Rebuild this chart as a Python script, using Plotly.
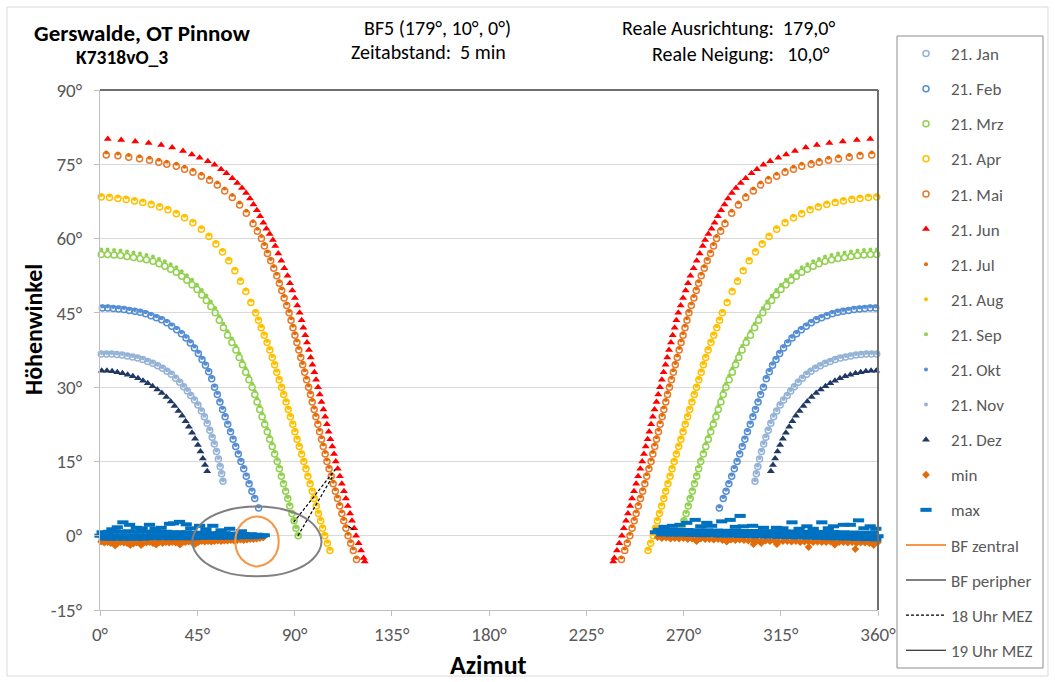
import plotly.graph_objects as go

# ---------------- data ----------------
x_tickvals = [0, 45, 90, 135, 180, 225, 270, 315, 360]
x_ticktext = ["0°", "45°", "90°", "135°", "180°", "225°", "270°", "315°", "360°"]
y_tickvals = [-15, 0, 15, 30, 45, 60, 75, 90]
y_ticktext = ["-15°", "0°", "15°", "30°", "45°", "60°", "75°", "90°"]

# 21. Jun
jun_az_l = [3.6, 9.8, 16.3, 22.5, 28.3, 33.4, 38.4, 42.5, 46.1, 49.9, 53.0, 56.0, 58.5, 61.2, 63.5, 65.7, 67.6, 69.4, 71.0, 72.6, 74.1, 75.6, 77.0, 78.5, 80.0,
            81.1, 82.5, 83.9, 85.3, 86.8, 87.9, 89.0, 90.2, 91.3, 92.4, 93.3, 94.1, 95.0, 95.8, 96.7, 97.5, 98.3, 99.2, 100.0, 100.9,
            101.7, 102.5, 103.4, 104.2, 105.0, 105.8, 106.6, 107.5, 108.3, 109.1, 110.0, 111.0, 111.9, 112.9, 113.8, 114.7, 115.7, 116.6, 117.6, 118.5,
            119.7, 120.8, 122.0, 122.5]
jun_az_r = [356.4, 350.2, 343.7, 337.5, 331.7, 326.6, 321.6, 317.5, 313.9, 310.1, 307.0, 304.0, 301.5, 298.8, 296.5, 294.3, 292.4, 290.6, 289.0, 287.4, 285.9, 284.4, 283.0, 281.5, 280.0,
            278.9, 277.5, 276.1, 274.7, 273.2, 272.1, 271.0, 269.8, 268.7, 267.6, 266.7, 265.9, 265.0, 264.2, 263.3, 262.5, 261.7, 260.8, 260.0, 259.1,
            258.3, 257.5, 256.6, 255.8, 255.0, 254.2, 253.4, 252.5, 251.7, 250.9, 250.0, 249.0, 248.1, 247.1, 246.2, 245.3, 244.3, 243.4, 242.4, 241.5,
            240.3, 239.2, 238.0, 237.5]
jun_el = [80.1, 79.9, 79.6, 79.3, 78.9, 78.4, 77.7, 77.0, 76.3, 75.6, 74.9, 74.0, 73.2, 72.2, 71.2, 70.2, 69.2, 68.1, 66.9, 65.7, 64.5, 63.2, 62.0, 60.9, 59.7,
          58.5, 57.0, 55.5, 54.0, 52.5, 51.0, 49.5, 48.0, 46.5, 45.0, 43.5, 42.0, 40.5, 39.0, 37.5, 36.0, 34.5, 33.0, 31.5, 30.0,
          28.5, 27.0, 25.5, 24.0, 22.5, 21.0, 19.5, 18.0, 16.5, 15.0, 13.5, 12.0, 10.5, 9.0, 7.5, 6.0, 4.5, 3.0, 1.5, 0.0,
          -1.5, -3.0, -4.5, -5.2]

# 21. Mai / 21. Jul
mai_az_l = [2.9, 8.3, 13.3, 18.3, 22.9, 27.2, 30.9, 35.3, 39.1, 43.0, 46.9, 50.7, 54.3, 57.7, 61.2, 64.6, 67.7, 70.8, 72.8, 74.7,
            76.1, 77.5, 79.0, 80.4, 81.8, 83.0, 84.1, 85.2, 86.4, 87.5, 88.4, 89.3, 90.2, 91.1, 92.0, 92.9, 93.8, 94.7, 95.6, 96.5,
            97.4, 98.2, 99.1, 99.9, 100.8, 101.6, 102.5, 103.3, 104.2, 105.0, 106.0, 107.0, 107.9, 108.9, 109.9, 110.9, 111.9, 112.8, 113.8, 114.8,
            116.0, 117.2, 118.7]
mai_az_r = [357.1, 351.7, 346.7, 341.7, 337.1, 332.8, 329.1, 324.7, 320.9, 317.0, 313.1, 309.3, 305.7, 302.3, 298.8, 295.4, 292.3, 289.2, 287.2, 285.3,
            283.9, 282.5, 281.0, 279.6, 278.2, 277.0, 275.9, 274.8, 273.6, 272.5, 271.6, 270.7, 269.8, 268.9, 268.0, 267.1, 266.2, 265.3, 264.4, 263.5,
            262.6, 261.8, 260.9, 260.1, 259.2, 258.4, 257.5, 256.7, 255.8, 255.0, 254.0, 253.0, 252.1, 251.1, 250.1, 249.1, 248.1, 247.2, 246.2, 245.2,
            244.0, 242.8, 241.3]
mai_el = [76.9, 76.7, 76.4, 76.1, 75.8, 75.4, 75.0, 74.6, 74.0, 73.4, 72.6, 71.8, 70.8, 69.6, 68.3, 66.8, 65.1, 63.0, 61.5, 60.0,
          58.5, 57.0, 55.5, 54.0, 52.5, 51.0, 49.5, 48.0, 46.5, 45.0, 43.5, 42.0, 40.5, 39.0, 37.5, 36.0, 34.5, 33.0, 31.5, 30.0,
          28.5, 27.0, 25.5, 24.0, 22.5, 21.0, 19.5, 18.0, 16.5, 15.0, 13.5, 12.0, 10.5, 9.0, 7.5, 6.0, 4.5, 3.0, 1.5, 0.0,
          -1.5, -3.0, -4.8]
jul_el = [77.4, 77.2, 76.9, 76.6, 76.3, 75.9, 75.5, 75.1, 74.5, 73.9, 73.1, 72.3, 71.3, 70.1, 68.8, 67.3, 65.6, 63.5, 62.0, 60.5,
          58.9, 57.4, 55.9, 54.4, 52.9, 51.4, 49.9, 48.4, 46.9, 45.4, 43.9, 42.4, 40.9, 39.4, 37.9, 36.4, 34.9, 33.4, 31.9, 30.4,
          28.9, 27.4, 25.9, 24.4, 22.9, 21.4, 19.9, 18.4, 16.9, 15.4, 13.9, 12.4, 10.9, 9.4, 7.9, 6.4, 4.9, 3.4, 1.9, 0.4,
          -1.1, -2.6, -4.4]

# 21. Apr / 21. Aug
apr_az_l = [0.6, 4.4, 8.3, 12.1, 16.0, 19.8, 23.7, 27.6, 31.4, 35.3, 39.1, 43.0, 46.9, 50.4, 53.6, 56.7, 59.6, 62.4, 65.0, 67.5, 69.8, 72.0,
            73.3, 74.6, 76.0, 77.3, 78.6, 79.7, 80.8, 81.8, 82.9, 84.0, 85.0, 86.1, 87.1, 88.1, 89.2, 90.2, 91.2, 92.2, 93.3, 94.3,
            95.3, 96.2, 97.2, 98.2, 99.1, 100.1, 101.1, 102.1, 103.0, 104.0, 105.2, 106.4]
apr_az_r = [359.4, 355.6, 351.7, 347.9, 344.0, 340.2, 336.3, 332.4, 328.6, 324.7, 320.9, 317.0, 313.1, 309.6, 306.4, 303.3, 300.4, 297.6, 295.0, 292.5, 290.2, 288.0,
            286.7, 285.4, 284.0, 282.7, 281.4, 280.3, 279.2, 278.2, 277.1, 276.0, 275.0, 273.9, 272.9, 271.9, 270.8, 269.8, 268.8, 267.8, 266.7, 265.7,
            264.7, 263.8, 262.8, 261.8, 260.9, 259.9, 258.9, 257.9, 257.0, 256.0, 254.8, 253.6]
apr_el = [68.4, 68.3, 68.1, 67.9, 67.6, 67.3, 66.9, 66.4, 65.8, 65.0, 64.2, 63.2, 61.9, 60.4, 58.9, 57.3, 55.5, 53.5, 51.4, 49.3, 47.1, 45.0,
          43.5, 42.0, 40.5, 39.0, 37.5, 36.0, 34.5, 33.0, 31.5, 30.0, 28.5, 27.0, 25.5, 24.0, 22.5, 21.0, 19.5, 18.0, 16.5, 15.0,
          13.5, 12.0, 10.5, 9.0, 7.5, 6.0, 4.5, 3.0, 1.5, 0.0, -1.5, -3.0]
aug_el = [68.8, 68.7, 68.5, 68.3, 68.0, 67.7, 67.3, 66.8, 66.2, 65.4, 64.6, 63.6, 62.3, 60.8, 59.3, 57.7, 55.9, 53.9, 51.8, 49.7, 47.5, 45.4,
          43.8, 42.3, 40.8, 39.3, 37.8, 36.3, 34.8, 33.3, 31.8, 30.3, 28.8, 27.3, 25.8, 24.3, 22.8, 21.3, 19.8, 18.3, 16.8, 15.3,
          13.8, 12.3, 10.8, 9.3, 7.8, 6.3, 4.8, 3.3, 1.8, 0.3, -1.2, -2.7]

# 21. Mrz / 21. Sep
mrz_az_l = [0.6, 3.5, 6.5, 9.5, 12.5, 15.5, 18.5, 21.5, 24.5, 27.3, 30.0, 32.7, 35.3, 37.8, 40.2, 42.6, 44.9, 47.1, 49.2, 51.3, 53.3,
            55.2, 57.1, 59.0, 61.0, 62.9, 64.4, 65.9, 67.4, 68.9, 70.4, 71.6, 72.7, 73.9, 75.0, 76.2, 77.4, 78.5, 79.7, 80.8, 82.0,
            83.0, 83.9, 84.9, 85.9, 86.9, 87.8, 88.8, 89.8, 90.7, 91.7]
mrz_az_r = [359.4, 356.5, 353.5, 350.5, 347.5, 344.5, 341.5, 338.5, 335.5, 332.7, 330.0, 327.3, 324.7, 322.2, 319.8, 317.4, 315.1, 312.9, 310.8, 308.7, 306.7,
            304.8, 302.9, 301.0, 299.0, 297.1, 295.6, 294.1, 292.6, 291.1, 289.6, 288.4, 287.3, 286.1, 285.0, 283.8, 282.6, 281.5, 280.3, 279.2, 278.0,
            277.0, 276.1, 275.1, 274.1, 273.1, 272.2, 271.2, 270.2, 269.3, 268.3]
mrz_el = [56.8, 56.8, 56.7, 56.6, 56.4, 56.2, 56.0, 55.7, 55.4, 54.9, 54.4, 53.8, 53.2, 52.4, 51.6, 50.7, 49.7, 48.6, 47.5, 46.3, 45.0,
          43.5, 42.0, 40.5, 39.0, 37.5, 36.0, 34.5, 33.0, 31.5, 30.0, 28.5, 27.0, 25.5, 24.0, 22.5, 21.0, 19.5, 18.0, 16.5, 15.0,
          13.5, 12.0, 10.5, 9.0, 7.5, 6.0, 4.5, 3.0, 1.5, 0.0]
sep_el = [57.8, 57.8, 57.7, 57.6, 57.4, 57.2, 57.0, 56.7, 56.4, 55.9, 55.4, 54.8, 54.2, 53.4, 52.6, 51.7, 50.7, 49.6, 48.5, 47.3, 46.0,
          44.3, 42.8, 41.3, 39.8, 38.3, 36.8, 35.3, 33.8, 32.3, 30.7, 29.2, 27.7, 26.2, 24.7, 23.1, 21.6, 20.1, 18.6, 17.0, 15.5,
          14.0, 12.4, 10.9, 9.4, 7.8, 6.3, 4.8, 3.2, 1.7, 0.2]

# 21. Feb / 21. Okt
feb_az_l = [1.1, 3.6, 6.1, 8.6, 11.1, 13.6, 16.1, 18.6, 21.1, 23.6, 26.1, 28.5, 30.9, 33.2, 35.5, 37.7, 39.8, 41.8, 43.7, 45.5, 47.2, 48.8, 50.3, 51.7,
            53.0, 54.3, 55.5, 56.7, 57.9, 59.1, 60.4, 61.6, 62.8, 64.0, 65.2, 66.5, 67.7, 69.0, 70.3, 71.6, 73.4]
feb_az_r = [358.9, 356.4, 353.9, 351.4, 348.9, 346.4, 343.9, 341.4, 338.9, 336.4, 333.9, 331.5, 329.1, 326.8, 324.5, 322.3, 320.2, 318.2, 316.3, 314.5, 312.8, 311.2, 309.7, 308.3,
            307.0, 305.7, 304.5, 303.3, 302.1, 300.9, 299.6, 298.4, 297.2, 296.0, 294.8, 293.5, 292.3, 291.0, 289.7, 288.4, 286.6]
feb_el = [46.0, 46.0, 45.9, 45.8, 45.7, 45.5, 45.3, 45.1, 44.8, 44.4, 44.0, 43.6, 43.0, 42.3, 41.6, 40.8, 39.9, 38.9, 37.9, 36.8, 35.6, 34.4, 33.1, 31.7,
          30.0, 28.5, 27.0, 25.5, 24.0, 22.5, 21.0, 19.5, 18.0, 16.5, 15.0, 13.5, 12.0, 10.5, 9.0, 7.5, 5.6]
okt_el = [46.3, 46.3, 46.2, 46.1, 46.0, 45.8, 45.6, 45.4, 45.1, 44.7, 44.3, 43.9, 43.3, 42.6, 41.9, 41.1, 40.2, 39.2, 38.2, 37.1, 35.9, 34.7, 33.4, 32.0,
          30.3, 28.8, 27.3, 25.8, 24.3, 22.8, 21.3, 19.8, 18.3, 16.8, 15.3, 13.8, 12.3, 10.8, 9.3, 7.8, 5.9]

# 21. Jan / 21. Nov
jan_az_l = [0.6, 3.0, 5.4, 7.8, 10.2, 12.6, 15.0, 17.4, 19.8, 22.1, 24.4, 26.7, 28.9, 31.0, 33.0, 35.0, 36.9, 38.7, 40.4, 42.0, 43.7,
            45.3, 46.9, 48.3, 49.6, 50.8, 51.9, 52.9, 53.9, 54.8, 55.6, 56.3, 56.9]
jan_az_r = [359.4, 357.0, 354.6, 352.2, 349.8, 347.4, 345.0, 342.6, 340.2, 337.9, 335.6, 333.3, 331.1, 329.0, 327.0, 325.0, 323.1, 321.3, 319.6, 318.0, 316.3,
            314.7, 313.1, 311.7, 310.4, 309.2, 308.1, 307.1, 306.1, 305.2, 304.4, 303.7, 303.1]
jan_el = [36.7, 36.7, 36.7, 36.6, 36.5, 36.3, 36.1, 35.9, 35.6, 35.2, 34.8, 34.3, 33.8, 33.2, 32.6, 31.8, 31.0, 30.1, 29.2, 28.3, 27.4,
          26.4, 25.2, 24.0, 22.7, 21.3, 19.9, 18.5, 17.0, 15.5, 14.0, 12.5, 11.0]
nov_el = [36.9, 36.9, 36.9, 36.8, 36.7, 36.5, 36.3, 36.1, 35.8, 35.4, 35.0, 34.5, 34.0, 33.4, 32.8, 32.0, 31.2, 30.3, 29.4, 28.5, 27.6,
          26.6, 25.4, 24.2, 22.9, 21.5, 20.1, 18.7, 17.2, 15.7, 14.2, 12.7, 11.2]

# 21. Dez
dez_az_l = [0.8, 3.2, 5.6, 8.0, 10.4, 12.8, 15.2, 17.6, 19.9, 22.1, 24.3, 26.5, 28.6, 30.7, 32.7, 34.5, 36.3, 38.0, 39.6, 41.1, 42.6, 44.0, 45.3, 46.5, 47.6, 48.6, 49.6]
dez_az_r = [359.2, 356.8, 354.4, 352.0, 349.6, 347.2, 344.8, 342.4, 340.1, 337.9, 335.7, 333.5, 331.4, 329.3, 327.3, 325.5, 323.7, 322.0, 320.4, 318.9, 317.4, 316.0, 314.7, 313.5, 312.4, 311.4, 310.4]
dez_el = [33.3, 33.3, 33.2, 33.0, 32.8, 32.5, 32.2, 31.8, 31.3, 30.8, 30.2, 29.5, 28.8, 28.0, 27.1, 26.2, 25.2, 24.2, 23.1, 22.0, 20.8, 19.6, 18.3, 17.0, 15.6, 14.3, 13.0]

# min values near the horizon (left cluster, right cluster, isolated low points)
min_az_l = [0.5, 2, 3.5, 5, 6.5, 8, 9.5, 11, 12.5, 14, 15.5, 17, 18.5, 20, 21.5, 23, 24.5, 26, 27.5, 29,
            30.5, 32, 33.5, 35, 36.5, 38, 39.5, 41, 42.5, 44, 45.5, 47, 48.5, 50, 51.5, 53, 54.5, 56, 57.5, 59,
            60.5, 62, 63.5, 65, 66.5, 68, 69.5, 71, 72.5, 74, 75.5,
            7, 14, 19, 26, 37, 44]
min_el_l = [-1.2, -1.4, -1.3, -1.5, -1.3, -1.6, -1.3, -1.4, -1.5, -1.3, -1.6, -1.4, -1.3, -1.5, -1.4, -1.3, -1.5, -1.4, -1.3, -1.5,
            -1.3, -1.4, -1.3, -1.4, -1.2, -1.4, -1.3, -1.2, -1.3, -1.2, -1.3, -1.1, -1.2, -1.1, -1.2, -1.1, -1.0, -1.1, -1.0, -1.0,
            -0.9, -1.0, -0.9, -0.8, -0.9, -0.8, -0.7, -0.7, -0.6, -0.5, -0.4,
            -2.0, -1.9, -1.9, -1.8, -1.8, -1.7]
min_az_r = [258, 260, 262, 264, 266, 268, 270, 272, 274, 276, 278, 280, 282, 284, 286, 288, 290, 292, 294, 296,
            298, 300, 302, 304, 306, 308, 310, 312, 314, 316, 318, 320, 322, 324, 326, 328, 330, 332, 334, 336,
            338, 340, 342, 344, 346, 348, 350, 352, 354, 356, 358, 360,
            302.4, 313.2, 327.9, 349.5, 358.0, 276, 290, 306, 340]
min_el_r = [-0.3, -0.5, -0.4, -0.6, -0.5, -0.6, -0.5, -0.7, -0.6, -0.8, -0.6, -0.7, -0.7, -0.8, -0.7, -0.9, -0.8, -0.8, -0.9, -0.8,
            -0.9, -1.0, -0.9, -1.0, -1.1, -1.0, -1.1, -1.0, -1.2, -1.1, -1.1, -1.2, -1.1, -1.3, -1.2, -1.2, -1.3, -1.2, -1.3, -1.3,
            -1.2, -1.4, -1.3, -1.3, -1.4, -1.3, -1.5, -1.4, -1.4, -1.5, -1.4, -1.3,
            -1.7, -1.7, -2.3, -2.7, -1.9, -1.1, -1.2, -1.5, -1.8]

# max values near the horizon
max_az_l = [0, 1, 2, 3, 4, 5, 6, 7, 8, 9, 10, 11, 12, 13, 14, 15, 16, 17, 18, 19, 20, 21, 22, 23, 24, 25, 26, 27, 28, 29,
            30, 31, 32, 33, 34, 35, 36, 37, 38, 39, 40, 41, 42, 43, 44, 45, 46, 47, 48, 49, 50, 51, 52, 53, 54, 55, 56, 57, 58, 59,
            60, 61, 62, 63, 64, 65, 66, 67, 68, 69, 70, 71, 72, 73, 74, 75, 76,
            5.5, 8.0, 10.6, 13.7, 16.8, 19.5, 22.9, 25.5, 28.3, 32.2, 34.0, 36.8, 39.9, 42.0, 46.1, 49.0, 52.2, 56.0, 60.0, 65.4]
max_el_l = [0.0, 0.7, -0.6, 0.1, 0.8, -0.6, 0.1, 0.9, -0.6, 0.0, 0.8, -0.6, 0.1, 0.9, -0.6, 0.0, 0.8, -0.6, 0.1, 0.9,
            -0.6, 0.0, 0.8, -0.5, 0.1, 0.8, -0.5, 0.0, 0.8, -0.5, 0.1, 0.8, -0.5, 0.0, 0.7, -0.5, 0.1, 0.7, -0.5, 0.0,
            0.7, -0.5, 0.0, 0.6, -0.5, 0.0, 0.6, -0.4, 0.0, 0.6, -0.4, 0.0, 0.5, -0.4, 0.0, 0.5, -0.4, 0.0, 0.5, -0.4,
            0.0, 0.4, -0.4, 0.0, 0.4, -0.3, 0.0, 0.3, -0.3, 0.0, 0.3, -0.3, 0.0, 0.2, -0.2, 0.0, 0.1,
            1.3, 1.7, 2.7, 2.2, 1.6, 1.5, 2.2, 1.4, 1.6, 2.4, 2.5, 2.8, 2.3, 1.5, 2.0, 1.3, 2.0, 1.1, 1.4, 0.9]
max_az_r = [257, 258.5, 260, 261.5, 263, 264.5, 266, 267.5, 269, 270.5, 272, 273.5, 275, 276.5, 278, 279.5, 281, 282.5, 284, 285.5,
            287, 288.5, 290, 291.5, 293, 294.5, 296, 297.5, 299, 300.5, 302, 303.5, 305, 306.5, 308, 309.5, 311, 312.5, 314, 315.5,
            317, 318.5, 320, 321.5, 323, 324.5, 326, 327.5, 329, 330.5, 332, 333.5, 335, 336.5, 338, 339.5, 341, 342.5, 344, 345.5,
            347, 348.5, 350, 351.5, 353, 354.5, 356, 357.5, 359, 360,
            261.0, 265.0, 268.4, 271.5, 275.4, 278.0, 280.8, 283.0, 287.7, 291.6, 294.0, 296.2, 297.7, 302.0, 307.0, 313.0, 316.0, 320.2,
            323.5, 327.1, 330.0, 334.0, 337.0, 339.4, 344.0, 347.2, 351.0, 353.5, 356.4, 359.0]
max_el_r = [0.7, 1.2, 0.25, 0.7, 1.2, 0.2, 0.7, 1.2, 0.2, 0.6, 1.15, 0.15, 0.6, 1.1, 0.1, 0.6, 1.1, 0.1, 0.5, 1.05,
            0.0, 0.5, 1.0, 0.0, 0.5, 1.0, -0.05, 0.4, 0.95, -0.1, 0.4, 0.95, -0.15, 0.35, 0.9, -0.2, 0.3, 0.9, -0.25, 0.3,
            0.85, -0.3, 0.25, 0.85, -0.35, 0.2, 0.8, -0.4, 0.15, 0.8, -0.45, 0.1, 0.75, -0.5, 0.05, 0.75, -0.55, 0.0, 0.7, -0.6,
            0.0, 0.65, -0.65, -0.05, 0.6, -0.7, -0.1, 0.6, -0.75, -0.1,
            1.8, 2.0, 2.2, 2.6, 3.2, 1.9, 2.6, 2.0, 2.9, 3.2, 1.8, 4.0, 1.9, 2.0, 1.6, 1.6, 1.5, 2.7,
            1.4, 1.9, 1.4, 2.7, 1.5, 1.9, 2.2, 2.2, 3.1, 1.5, 1.9, 1.4]

# contours of the field of view (BF zentral / BF peripher)
bfz_az = [82.7, 81.4, 77.7, 72.6, 67.6, 63.9, 62.6, 63.9, 67.6, 72.6, 77.7, 81.4, 82.7]
bfz_el = [-1.2, 1.4, 3.2, 3.9, 3.2, 1.4, -1.2, -3.7, -5.5, -6.2, -5.5, -3.7, -1.2]
bfp_az = [102.5, 98.5, 87.6, 72.6, 57.6, 46.7, 42.7, 46.7, 57.6, 72.6, 87.6, 98.5, 102.5]
bfp_el = [-1.2, 2.4, 5.0, 5.9, 5.0, 2.4, -1.2, -4.7, -7.3, -8.2, -7.3, -4.7, -1.2]

# hour lines
uhr18_az = [89.6, 108.9, None, 91.6, 107.8]
uhr18_el = [2.7, 13.4, None, 0.0, 12.1]
uhr19_az = [115.0, 117.2]
uhr19_el = [1.9, 1.2]

# ---------------- figure ----------------
FONT = "Carlito, Lato, sans-serif"
W, H = 1055, 682
L, R, T, B = 100, 177, 90, 72
PW, PH = W - L - R, H - T - B


def px(x):
    return (x - L) / PW


def py(y):
    return (H - B - y) / PH


fig = go.Figure()


def add_month(name, az_l, az_r, el, symbol, color, size, lw=0, leg="legend"):
    mk = dict(symbol=symbol, color=color, size=size)
    if lw:
        mk["line"] = dict(color=color, width=lw)
    fig.add_trace(go.Scatter(x=az_l + az_r, y=el + el, mode="markers", name=name,
                             legendgroup=name, legend=leg, marker=mk, cliponaxis=False,
                             hoverinfo="skip"))


C_JAN = "#95B3D7"
C_FEB = "#558ED5"
C_MRZ = "#92D050"
C_APR = "#FFC000"
C_MAI = "#E8792A"
C_JUL = "#E36C09"

add_month("21. Jan", jan_az_l, jan_az_r, jan_el, "circle-open", C_JAN, 6, 1.5)
add_month("21. Feb", feb_az_l, feb_az_r, feb_el, "circle-open", C_FEB, 6, 1.5)
add_month("21. Mrz", mrz_az_l, mrz_az_r, mrz_el, "circle-open", C_MRZ, 6, 1.5)
add_month("21. Apr", apr_az_l, apr_az_r, apr_el, "circle-open", C_APR, 6, 1.5)
add_month("21. Mai", mai_az_l, mai_az_r, mai_el, "circle-open", C_MAI, 6, 1.5)
add_month("21. Jun", jun_az_l, jun_az_r, jun_el, "triangle-up", "#FF0000", 7)
add_month("21. Jul", mai_az_l, mai_az_r, jul_el, "circle", C_JUL, 4)
add_month("21. Aug", apr_az_l, apr_az_r, aug_el, "circle", C_APR, 4)
add_month("21. Sep", mrz_az_l, mrz_az_r, sep_el, "circle", C_MRZ, 4)
add_month("21. Okt", feb_az_l, feb_az_r, okt_el, "circle", C_FEB, 4, leg="legend2")
add_month("21. Nov", jan_az_l, jan_az_r, nov_el, "circle", C_JAN, 4, leg="legend2")
add_month("21. Dez", dez_az_l, dez_az_r, dez_el, "triangle-up", "#1F3864", 7, leg="legend2")

fig.add_trace(go.Scatter(x=min_az_l + min_az_r, y=min_el_l + min_el_r, mode="markers", name="min",
                         legendgroup="min", legend="legend2",
                         marker=dict(symbol="diamond", color="#E36C09", size=6),
                         cliponaxis=False, hoverinfo="skip"))
fig.add_trace(go.Scatter(x=max_az_l + max_az_r, y=max_el_l + max_el_r, mode="markers", name="max",
                         legendgroup="max", legend="legend2",
                         marker=dict(symbol="line-ew", size=8, line=dict(color="#0070C0", width=4)),
                         cliponaxis=False, hoverinfo="skip"))
fig.add_trace(go.Scatter(x=bfz_az, y=bfz_el, mode="lines", name="BF zentral", legendgroup="bfz", legend="legend2",
                         line=dict(color="#F79646", width=2, shape="spline"), hoverinfo="skip"))
fig.add_trace(go.Scatter(x=bfp_az, y=bfp_el, mode="lines", name="BF peripher", legendgroup="bfp", legend="legend2",
                         line=dict(color="#808080", width=2, shape="spline"), hoverinfo="skip"))
fig.add_trace(go.Scatter(x=uhr18_az, y=uhr18_el, mode="lines", name="18 Uhr MEZ", legendgroup="u18", legend="legend2",
                         line=dict(color="#000000", width=1.2, dash="3px,2px"), hoverinfo="skip"))
fig.add_trace(go.Scatter(x=uhr19_az, y=uhr19_el, mode="lines", name="19 Uhr MEZ", legendgroup="u19", legend="legend2",
                         line=dict(color="#000000", width=1.2), hoverinfo="skip"))

tick_font = dict(family=FONT, size=19, color="#595959")
leg_common = dict(xanchor="left", yanchor="top", bgcolor="rgba(0,0,0,0)", borderwidth=0,
                  font=dict(family=FONT, size=17, color="#595959"),
                  traceorder="grouped", tracegroupgap=10, itemwidth=40)

fig.update_layout(
    width=W, height=H,
    margin=dict(l=L, r=R, t=T, b=B, autoexpand=False),
    paper_bgcolor="white", plot_bgcolor="white",
    font=dict(family=FONT, color="#000000"),
    showlegend=True,
    legend=dict(x=px(901), y=py(36), **leg_common),
    legend2=dict(x=px(901), y=py(36 + 9 * 35.1), **leg_common),
    xaxis=dict(range=[0, 360], tickvals=x_tickvals, ticktext=x_ticktext,
               showgrid=False, zeroline=False, showline=True, linecolor="#BFBFBF", linewidth=1,
               ticks="outside", ticklen=5, tickcolor="#BFBFBF", tickfont=tick_font,
               ticklabelstandoff=2, automargin=False, fixedrange=True),
    yaxis=dict(range=[-15, 90], tickvals=y_tickvals, ticktext=y_ticktext,
               showgrid=True, gridcolor="#D9D9D9", gridwidth=1, zeroline=False,
               showline=True, linecolor="#BFBFBF", linewidth=1,
               ticks="outside", ticklen=5, tickcolor="#BFBFBF", tickfont=tick_font,
               ticklabelstandoff=8, automargin=False, fixedrange=True),
    shapes=[
        dict(type="rect", xref="paper", yref="paper", x0=px(7), x1=px(1048), y0=py(676), y1=py(7),
             line=dict(color="#D9D9D9", width=1), layer="below"),
        dict(type="rect", xref="paper", yref="paper", x0=px(897), x1=px(1043), y0=py(668), y1=py(36),
             line=dict(color="#8C8C8C", width=1), layer="above"),
        dict(type="line", xref="paper", yref="paper", x0=0, x1=1, y0=1, y1=1,
             line=dict(color="#6E6E6E", width=2)),
        dict(type="line", xref="paper", yref="paper", x0=1, x1=1, y0=0, y1=1,
             line=dict(color="#6E6E6E", width=2)),
    ],
)

NB = "\u00a0"
annos = [
    dict(text="<b>Gerswalde, OT Pinnow</b>", x=px(32), y=py(33), xanchor="left", size=23),
    dict(text="<b>K7318vO_3</b>", x=px(74), y=py(57), xanchor="left", size=19.5),
    dict(text="BF5 (179°, 10°, 0°)", x=px(437), y=py(28), xanchor="center", size=20),
    dict(text="Zeitabstand:" + NB + NB + "5 min", x=px(428), y=py(52), xanchor="center", size=20),
    dict(text="Reale Ausrichtung:" + NB + NB + "179,0°", x=px(728), y=py(28), xanchor="center", size=20),
    dict(text="Reale Neigung:" + NB + NB + NB + "10,0°", x=px(741), y=py(54), xanchor="center", size=20),
    dict(text="<b>Azimut</b>", x=px(488), y=py(665), xanchor="center", size=26),
]
for a in annos:
    fig.add_annotation(text=a["text"], x=a["x"], y=a["y"], xref="paper", yref="paper",
                       xanchor=a["xanchor"], yanchor="middle", showarrow=False,
                       font=dict(family=FONT, size=a["size"], color="#000000"))
fig.add_annotation(text="<b>Höhenwinkel</b>", x=px(33), y=py(330), xref="paper", yref="paper",
                   xanchor="center", yanchor="middle", showarrow=False, textangle=-90,
                   font=dict(family=FONT, size=24, color="#000000"))

fig.write_html("out.html")
